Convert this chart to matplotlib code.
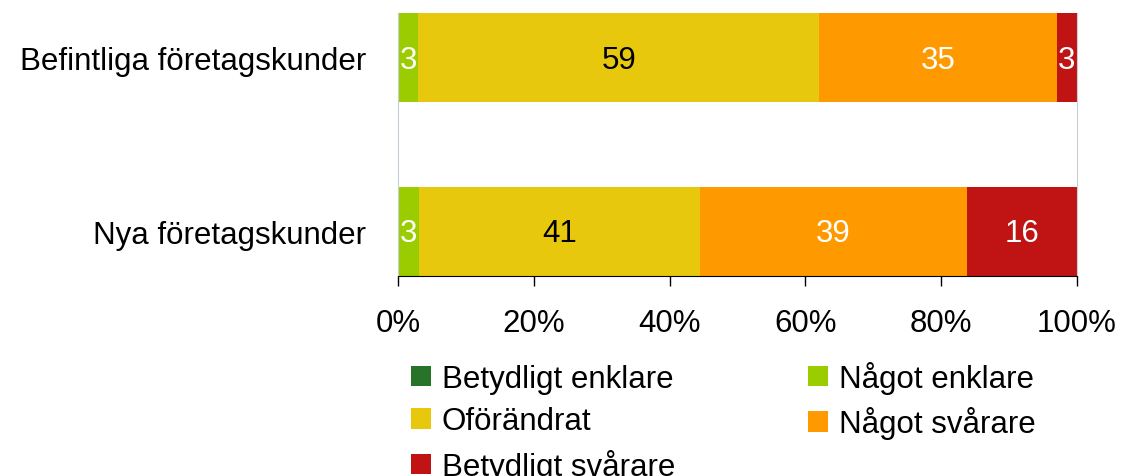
import numpy as np
import matplotlib
matplotlib.use("Agg")
import matplotlib.pyplot as plt
from matplotlib.ticker import PercentFormatter
from matplotlib.patches import Patch

plt.rcParams['font.family'] = ['Liberation Sans', 'DejaVu Sans']

# data
groups = ['Befintliga företagskunder', 'Nya företagskunder']
series = ['Betydligt enklare', 'Något enklare', 'Oförändrat', 'Något svårare', 'Betydligt svårare']
values = {
    'Betydligt enklare': [0, 0],
    'Något enklare': [3, 3],
    'Oförändrat': [59, 41],
    'Något svårare': [35, 39],
    'Betydligt svårare': [3, 16],
}
colors = ['#27732A', '#9ACC00', '#E8C80C', '#FF9900', '#C01414']
label_colors = ['white', 'white', 'black', 'white', 'white']
ticks = [0, 20, 40, 60, 80, 100]

fs = 22.5
fig = plt.figure(figsize=(11.22, 4.77), dpi=100)
ax = fig.add_axes([398/1122, 1 - 277/477, 679/1122, 263/477])

vals = np.array([values[s] for s in series], dtype=float)
shares = vals / vals.sum(axis=0) * 100  # 100% stacked like Excel
y = np.arange(len(groups))
h = 0.515
left = np.zeros(len(groups))
for i, s in enumerate(series):
    ax.barh(y, shares[i], left=left, height=h, color=colors[i], label=s)
    for j in range(len(groups)):
        if vals[i, j] > 0:
            ax.text(left[j] + shares[i, j] / 2, y[j] + 0.012, f'{vals[i, j]:.0f}',
                    ha='center', va='center', fontsize=fs, color=label_colors[i])
    left += shares[i]

ax.set_xlim(0, 100)
ax.set_ylim(1 + h / 2, -h / 2)
ax.set_xticks(ticks)
ax.xaxis.set_major_formatter(PercentFormatter(decimals=0))
ax.set_yticks(y)
ax.set_yticklabels(groups)
ax.tick_params(axis='x', direction='out', length=7, width=1, pad=16, labelsize=fs)
ax.tick_params(axis='y', length=0, pad=23, labelsize=fs)
ax.spines['top'].set_visible(False)
ax.spines['left'].set_color('#C8CED8')
ax.spines['right'].set_color('#C8CED8')
ax.spines['bottom'].set_color('black')

# legend, Excel ordering (row by row)
order = [0, 2, 4, 1, 3]
handles = [Patch(facecolor=colors[k], edgecolor='none') for k in order]
labels = [series[k] for k in order]
fig.legend(handles, labels, loc='upper left', ncol=2, frameon=False,
           bbox_to_anchor=(411/1122, 1 - 362/477), bbox_transform=fig.transFigure,
           fontsize=fs, borderpad=0, borderaxespad=0, handlelength=0.64,
           handleheight=0.64, handletextpad=0.35, columnspacing=4.25, labelspacing=0.4)

fig.savefig('out.png', dpi=100)
